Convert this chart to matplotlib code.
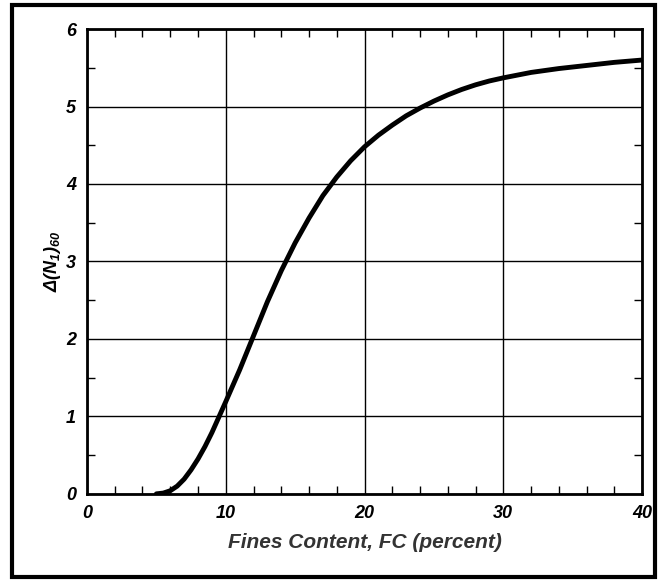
import matplotlib.pyplot as plt
from matplotlib.patches import Rectangle
from matplotlib.ticker import MultipleLocator

# values
fines_content = [5, 5.5, 6, 6.5, 7, 7.5, 8, 8.5, 9, 9.5, 10, 11, 12, 13, 14,
                 15, 16, 17, 18, 19, 20, 21, 22, 23, 24, 25, 26, 27, 28, 29,
                 30, 32, 34, 36, 38, 40]
delta_n160 = [0, 0.01, 0.04, 0.1, 0.19, 0.31, 0.45, 0.61, 0.79, 0.99, 1.19,
              1.6, 2.04, 2.48, 2.88, 3.24, 3.56, 3.85, 4.09, 4.3, 4.48, 4.63,
              4.76, 4.88, 4.98, 5.07, 5.15, 5.22, 5.28, 5.33, 5.37, 5.44,
              5.49, 5.53, 5.57, 5.6]
x_ticks = [0, 10, 20, 30, 40]
y_ticks = [0, 1, 2, 3, 4, 5, 6]

plt.rcParams['font.family'] = ['Liberation Sans', 'DejaVu Sans']
plt.rcParams['mathtext.fontset'] = 'custom'
plt.rcParams['mathtext.rm'] = 'Liberation Sans:bold:italic'
plt.rcParams['mathtext.it'] = 'Liberation Sans:bold:italic'
plt.rcParams['mathtext.bf'] = 'Liberation Sans:bold:italic'

fig = plt.figure(figsize=(6.64, 5.81), dpi=100)
ax = fig.add_axes([0.131, 0.150, 0.836, 0.800])

ax.plot(fines_content, delta_n160, color='black', linewidth=3.5,
        solid_capstyle='round', solid_joinstyle='round', zorder=3)

ax.set_xlim(0, 40)
ax.set_ylim(0, 6)
ax.set_xticks(x_ticks)
ax.set_yticks(y_ticks)
ax.xaxis.set_minor_locator(MultipleLocator(2))
ax.yaxis.set_minor_locator(MultipleLocator(0.5))
ax.grid(True, which='major', color='black', linewidth=1.0)
ax.tick_params(which='both', direction='in', top=True, right=True, color='black')
ax.tick_params(which='major', length=0, pad=8)
ax.tick_params(which='minor', length=6, width=1)
for sp in ax.spines.values():
    sp.set_linewidth(2)

for lab in ax.get_xticklabels() + ax.get_yticklabels():
    lab.set_fontweight('bold')
    lab.set_fontstyle('italic')
    lab.set_fontsize(13)

ax.set_xlabel('Fines Content, FC (percent)', fontsize=15, fontweight='bold',
              fontstyle='italic', color='#333333', labelpad=8)
ax.set_ylabel(r'$\Delta(N_1)_{60}$', fontsize=13, labelpad=2)

fig.patches.append(Rectangle((12 / 664, 4 / 581), 643 / 664, 572 / 581,
                             transform=fig.transFigure, fill=False,
                             edgecolor='black', linewidth=3))

fig.savefig('out.png', dpi=100)
